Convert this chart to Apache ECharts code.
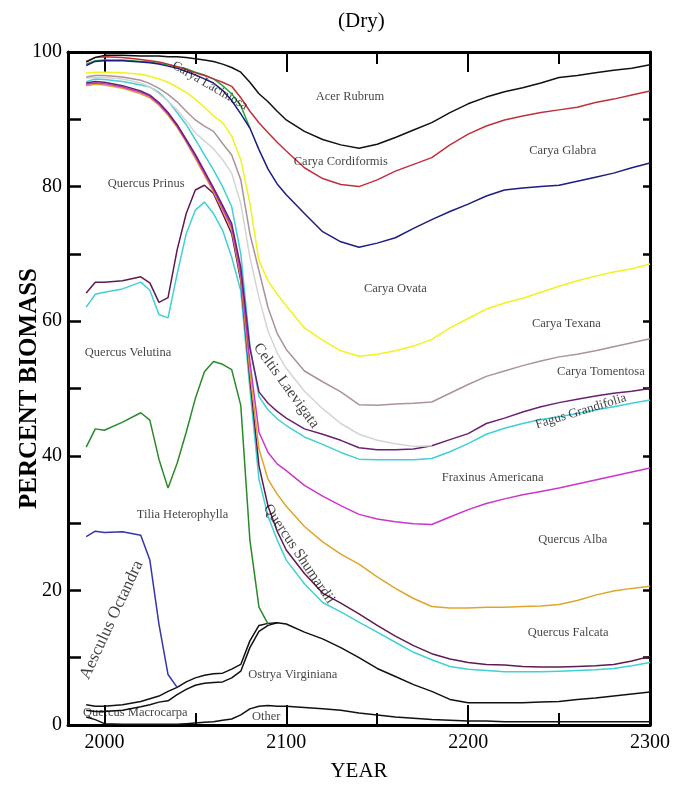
<!DOCTYPE html>
<html>
<head>
<meta charset="utf-8">
<script src="https://cdn.jsdelivr.net/npm/echarts@6/dist/echarts.min.js"></script>
<style>
  html, body { margin: 0; padding: 0; background: #fff; }
  #main { width: 677px; height: 785px; }
</style>
</head>
<body>
<div id="main"></div>
<script>
// sample years shared by every boundary line
const years = [1990, 1995, 2000, 2010, 2020, 2025, 2030, 2035, 2040, 2045, 2050, 2055, 2060, 2065, 2070,
  2075, 2080, 2085, 2090, 2095, 2100, 2110, 2120, 2130, 2140, 2150, 2160, 2170, 2180, 2190, 2200,
  2210, 2220, 2230, 2240, 2250, 2260, 2270, 2280, 2290, 2300];

// cumulative percent biomass, one array per boundary line (null = line not drawn)
const acerRubrum = [98.5, 99.2, 99.5, 99.5, 99.4, 99.4, 99.4, 99.3, 99.3, 99.2, 99.0, 98.8, 98.6, 98.2, 97.7,
  97.0, 95.5, 93.8, 92.6, 91.2, 89.9, 88.2, 87.0, 86.2, 85.7, 86.3, 87.3, 88.4, 89.5, 91.0, 92.3,
  93.3, 94.1, 94.7, 95.4, 96.2, 96.5, 96.9, 97.3, 97.6, 98.1];
const caryaCordiformis = [98.6, 99.2, 99.3, 99.2, 98.9, 98.7, 98.5, 98.2, 97.8, 97.4, 96.9, 96.5, 96.0, 95.5, 94.9,
  93.2, 91.2, 89.5, 88.0, 86.6, 85.3, 82.8, 81.2, 80.3, 80.0, 81.0, 82.3, 83.3, 84.3, 86.2, 87.8,
  89.0, 89.9, 90.5, 91.0, 91.4, 91.8, 92.5, 93.0, 93.6, 94.2];
const caryaLaciniosa = [98.2, 98.7, 98.8, 98.8, 98.6, 98.5, 98.3, 98.1, 97.8, 97.5, 97.0, 96.6, 96.0, 95.0, 93.8,
  92.0, 88.7, null, null, null, null, null, null, null, null, null, null, null, null, null, null,
  null, null, null, null, null, null, null, null, null, null];
const caryaGlabra = [98.0, 98.6, 98.7, 98.7, 98.5, 98.4, 98.2, 97.9, 97.6, 97.1, 96.6, 96.0, 95.4, 94.3, 92.8,
  90.8, 88.7, 85.5, 82.6, 80.4, 78.8, 76.0, 73.3, 71.8, 71.0, 71.6, 72.4, 73.8, 75.1, 76.3, 77.4,
  78.6, 79.5, 79.8, 80.0, 80.2, 80.8, 81.4, 82.0, 82.8, 83.5];
const caryaOvata = [96.9, 97.0, 97.0, 96.9, 96.7, 96.4, 96.0, 95.5, 94.8, 94.0, 93.0, 91.8, 90.5, 89.5, 87.5,
  84.0, 77.5, 69.0, 66.0, 64.0, 62.3, 59.0, 57.2, 55.6, 54.8, 55.1, 55.6, 56.3, 57.3, 59.0, 60.4,
  61.8, 62.7, 63.4, 64.3, 65.2, 66.0, 66.7, 67.3, 67.8, 68.5];
const caryaTexana = [96.3, 96.5, 96.5, 96.3, 95.8, 95.3, 94.6, 93.7, 92.6, 91.2, 89.9, 89.0, 88.2, 86.4, 84.7,
  81.0, 73.0, 67.5, 62.0, 58.2, 55.8, 52.6, 51.0, 49.5, 47.6, 47.5, 47.7, 47.8, 48.0, 49.3, 50.6,
  51.8, 52.6, 53.4, 54.1, 54.7, 55.1, 55.6, 56.2, 56.8, 57.4];
const caryaTomentosa = [96.1, 96.2, 96.2, 96.0, 95.4, 94.8, 93.8, 92.7, 91.4, 89.8, 88.0, 86.8, 85.6, 84.0, 82.0,
  77.5, 69.5, 63.5, 58.5, 55.3, 53.0, 49.6, 47.0, 44.8, 43.2, 42.3, 41.8, 41.4, 41.5, null, null,
  null, null, null, null, null, null, null, null, null, null];
const fagusGrandifolia = [95.4, 95.6, 95.5, 95.0, 94.2, 93.6, 92.5, 91.0, 89.2, 87.0, 84.8, 82.3, 79.8, 77.2, 74.5,
  68.0, 56.0, 49.5, 47.8, 46.6, 45.6, 44.0, 43.2, 42.3, 41.2, 40.9, 40.9, 41.0, 41.5, 42.4, 43.3,
  44.8, 45.6, 46.5, 47.3, 47.9, 48.4, 48.9, 49.3, 49.6, 50.0];
const fraxinusTop = [95.6, 96.0, 95.9, 95.6, 95.1, 94.8, 94.0, 92.7, 91.0, 89.2, 87.0, 84.7, 82.5, 80.0, 77.0,
  70.0, 56.5, 48.8, 46.8, 45.5, 44.5, 42.8, 41.7, 40.5, 39.5, 39.4, 39.4, 39.4, 39.6, 40.6, 41.8,
  43.2, 44.1, 44.8, 45.4, 45.8, 46.3, 46.8, 47.3, 47.8, 48.3];
const quercusAlbaTop = [95.2, 95.4, 95.3, 94.8, 94.0, 93.4, 92.3, 90.8, 89.0, 86.8, 84.5, 82.0, 79.5, 76.8, 74.0,
  67.0, 54.0, 43.5, 40.5, 38.8, 37.8, 35.6, 34.0, 32.6, 31.3, 30.6, 30.2, 29.9, 29.8, 30.9, 32.0,
  32.9, 33.6, 34.2, 34.7, 35.2, 35.8, 36.4, 37.0, 37.6, 38.2];
const quercusFalcataTop = [95.0, 95.2, 95.1, 94.6, 93.8, 93.2, 92.1, 90.6, 88.8, 86.6, 84.2, 81.7, 79.2, 76.5, 73.6,
  66.5, 52.5, 41.0, 36.5, 34.3, 32.5, 29.5, 27.2, 25.4, 23.9, 22.0, 20.3, 18.8, 17.6, 17.4, 17.4,
  17.5, 17.5, 17.6, 17.7, 17.9, 18.5, 19.3, 19.9, 20.3, 20.6];
const quercusShumardiiTop = [64.2, 65.8, 65.8, 66.0, 66.6, 65.7, 62.8, 63.5, 70.6, 76.0, 79.5, 80.2, 79.0, 76.0, 73.0,
  66.0, 51.5, 38.5, 32.5, 28.8, 26.0, 22.5, 19.6, 18.1, 16.5, 14.8, 13.2, 11.8, 10.6, 9.8, 9.3,
  9.0, 8.9, 8.7, 8.6, 8.6, 8.7, 8.8, 9.0, 9.5, 10.2];
const quercusVelutinaTop = [62.1, 64.0, 64.3, 64.8, 65.8, 64.6, 61.0, 60.5, 67.0, 73.0, 76.5, 77.7, 76.0, 73.5, 69.5,
  64.5, 50.0, 36.5, 31.0, 27.5, 24.5, 21.0, 18.2, 16.8, 15.3, 13.8, 12.3, 10.8, 9.7, 8.7, 8.3,
  8.1, 7.9, 7.9, 7.9, 8.0, 8.1, 8.2, 8.4, 8.8, 9.3];
const tiliaTop = [41.3, 44.0, 43.8, 45.0, 46.4, 45.3, 39.5, 35.2, 38.9, 43.5, 48.5, 52.5, 54.0, 53.6, 52.8,
  47.5, 27.5, 17.5, 15.0, null, null, null, null, null, null, null, null, null, null, null, null,
  null, null, null, null, null, null, null, null, null, null];
const aesculusTop = [28.0, 28.8, 28.6, 28.7, 28.2, 24.5, 15.0, 7.5, 5.6, null, null, null, null, null, null,
  null, null, null, null, null, null, null, null, null, null, null, null, null, null, null, null,
  null, null, null, null, null, null, null, null, null, null];
const ostryaTop = [3.0, 2.8, 2.8, 3.0, 3.5, 3.9, 4.3, 5.0, 5.6, 6.4, 7.0, 7.4, 7.6, 7.7, 8.3,
  9.0, 12.5, 14.8, 15.1, 15.2, 15.0, 13.8, 12.8, 11.5, 10.0, 8.4, 7.2, 6.0, 5.0, 3.8, 3.3,
  3.3, 3.3, 3.3, 3.4, 3.5, 3.8, 4.0, 4.3, 4.6, 4.9];
const macrocarpaTop = [2.2, 2.0, 2.0, 2.2, 2.7, 3.0, 3.4, 3.6, 4.5, 5.3, 5.9, 6.2, 6.3, 6.4, 7.0,
  8.0, 11.5, 13.9, 14.8, 15.2, null, null, null, null, null, null, null, null, null, null, null,
  null, null, null, null, null, null, null, null, null, null];
const otherTop = [1.2, 0.8, 0.2, 0.1, 0.1, 0.1, 0.1, 0.1, 0.1, 0.2, 0.3, 0.4, 0.5, 0.7, 0.9,
  1.5, 2.4, 2.8, 2.9, 2.8, 2.8, 2.6, 2.4, 2.2, 1.8, 1.5, 1.2, 1.0, 0.8, 0.7, 0.6,
  0.6, 0.5, 0.5, 0.5, 0.5, 0.5, 0.5, 0.5, 0.5, 0.5];

// region labels: text, year, percent
const regionLabels = [
  ['Acer Rubrum', 2135, 93.3],
  ['Carya Cordiformis', 2130, 83.7],
  ['Carya Glabra', 2252, 85.3],
  ['Carya Laciniosa', 2058, 95.0],
  ['Quercus Prinus', 2023, 80.4],
  ['Carya Ovata', 2160, 64.9],
  ['Carya Texana', 2254, 59.7],
  ['Carya Tomentosa', 2273, 52.5],
  ['Fagus Grandifolia', 2262, 46.6],
  ['Celtis Laevigata', 2100, 50.4],
  ['Quercus Velutina', 2013, 55.3],
  ['Fraxinus Americana', 2213.5, 36.8],
  ['Tilia Heterophylla', 2043, 31.2],
  ['Quercus Alba', 2257.5, 27.5],
  ['Quercus Shumardii', 2107, 25.4],
  ['Quercus Falcata', 2255, 13.7],
  ['Aesculus Octandra', 2004, 15.6],
  ['Ostrya Virginiana', 2103.6, 7.4],
  ['Quercus Macrocarpa', 2017, 1.8],
  ['Other', 2089, 1.3]
];

// labels written along a line instead of horizontally
const slantedLabels = {
  'Carya Laciniosa': { rotate: -30, fontSize: 13 },
  'Fagus Grandifolia': { rotate: 17, fontSize: 13 },
  'Celtis Laevigata': { rotate: -54, fontSize: 15.5 },
  'Quercus Shumardii': { rotate: -56, fontSize: 15 },
  'Aesculus Octandra': { rotate: 65, fontSize: 17 }
};

const serif = '"Liberation Serif", "Times New Roman", serif';

function line(name, values, color) {
  return {
    name: name,
    type: 'line',
    data: years.map((y, i) => [y, values[i]]),
    showSymbol: false,
    connectNulls: false,
    lineStyle: { color: color, width: 1.5 },
    itemStyle: { color: color },
    silent: true
  };
}

const myChart = echarts.init(document.getElementById('main'));

const majorYears = [2000, 2100, 2200];
const minorYears = [2050, 2150, 2250];

function xAxisOf(position, ticks, len, withLine, labels) {
  return {
    type: 'value',
    position: position,
    min: 1980,
    max: 2300,
    interval: 10,
    axisLine: { show: withLine, onZero: false, lineStyle: { color: '#000', width: 3 } },
    axisTick: { show: true, inside: true, length: len, customValues: ticks, lineStyle: { color: '#000', width: 2 } },
    axisLabel: labels
      ? { show: true, customValues: [2000, 2100, 2200, 2300], formatter: v => String(v), color: '#000', fontFamily: serif, fontSize: 20, margin: 8 }
      : { show: false },
    splitLine: { show: false }
  };
}

myChart.setOption({
  animation: false,
  title: {
    text: '(Dry)',
    left: 333,
    top: 6,
    textStyle: { fontFamily: serif, fontSize: 21, fontWeight: 'normal', color: '#000' }
  },
  grid: { left: 68, right: 27, top: 52, bottom: 60, outerBoundsMode: 'none', containLabel: false },
  xAxis: [
    Object.assign(xAxisOf('bottom', majorYears, 20, true, true), {
      name: 'YEAR',
      nameLocation: 'middle',
      nameGap: 36,
      nameMoveOverlap: false,
      nameTextStyle: { fontFamily: serif, fontSize: 21, color: '#000' }
    }),
    xAxisOf('bottom', minorYears, 12, false, false),
    xAxisOf('top', majorYears, 20, true, false),
    xAxisOf('top', minorYears, 12, false, false)
  ],
  yAxis: [
    {
      type: 'value',
      position: 'left',
      min: 0,
      max: 100,
      interval: 10,
      name: 'PERCENT BIOMASS',
      nameLocation: 'middle',
      nameGap: 26,
      nameMoveOverlap: false,
      nameTextStyle: { fontFamily: serif, fontSize: 25, fontWeight: 'bold', color: '#000' },
      axisLine: { show: true, lineStyle: { color: '#000', width: 3 } },
      axisTick: { inside: true, length: 13, lineStyle: { color: '#000', width: 2.5 } },
      axisLabel: { customValues: [0, 20, 40, 60, 80, 100], color: '#000', fontFamily: serif, fontSize: 20, margin: 6 },
      splitLine: { show: false }
    },
    {
      type: 'value',
      position: 'right',
      min: 0,
      max: 100,
      interval: 10,
      axisLine: { show: true, lineStyle: { color: '#000', width: 3 } },
      axisTick: { inside: true, length: 7, lineStyle: { color: '#000', width: 2.5 } },
      axisLabel: { show: false },
      splitLine: { show: false }
    }
  ],
  series: [
    line('Other', otherTop, '#111'),
    line('Quercus Macrocarpa', macrocarpaTop, '#111'),
    line('Ostrya Virginiana', ostryaTop, '#111'),
    line('Aesculus Octandra', aesculusTop, '#3535aa'),
    line('Tilia Heterophylla', tiliaTop, '#2a8a2a'),
    line('Quercus Velutina', quercusVelutinaTop, '#40d0d6'),
    line('Quercus Shumardii', quercusShumardiiTop, '#5e1b50'),
    line('Quercus Falcata', quercusFalcataTop, '#dfa52a'),
    line('Quercus Alba', quercusAlbaTop, '#cc35cc'),
    line('Fraxinus Americana', fraxinusTop, '#40d0d6'),
    line('Fagus Grandifolia', fagusGrandifolia, '#6b1f72'),
    line('Carya Tomentosa', caryaTomentosa, '#d4d4d4'),
    line('Carya Texana', caryaTexana, '#ab929c'),
    line('Carya Ovata', caryaOvata, '#f2f21e'),
    line('Carya Laciniosa', caryaLaciniosa, '#22aa33'),
    line('Carya Glabra', caryaGlabra, '#1c1c82'),
    line('Carya Cordiformis', caryaCordiformis, '#c0303c'),
    line('Acer Rubrum', acerRubrum, '#111'),
    {
      name: 'labels',
      type: 'scatter',
      symbolSize: 0,
      silent: true,
      z: 5,
      data: regionLabels.map(d => ({
        value: [d[1], d[2]],
        label: slantedLabels[d[0]] || {},
        text: d[0]
      })),
      label: {
        show: true,
        position: 'inside',
        formatter: p => p.data.text,
        fontFamily: serif,
        fontSize: 12.5,
        color: '#111'
      }
    }
  ]
});
</script>
</body>
</html>
